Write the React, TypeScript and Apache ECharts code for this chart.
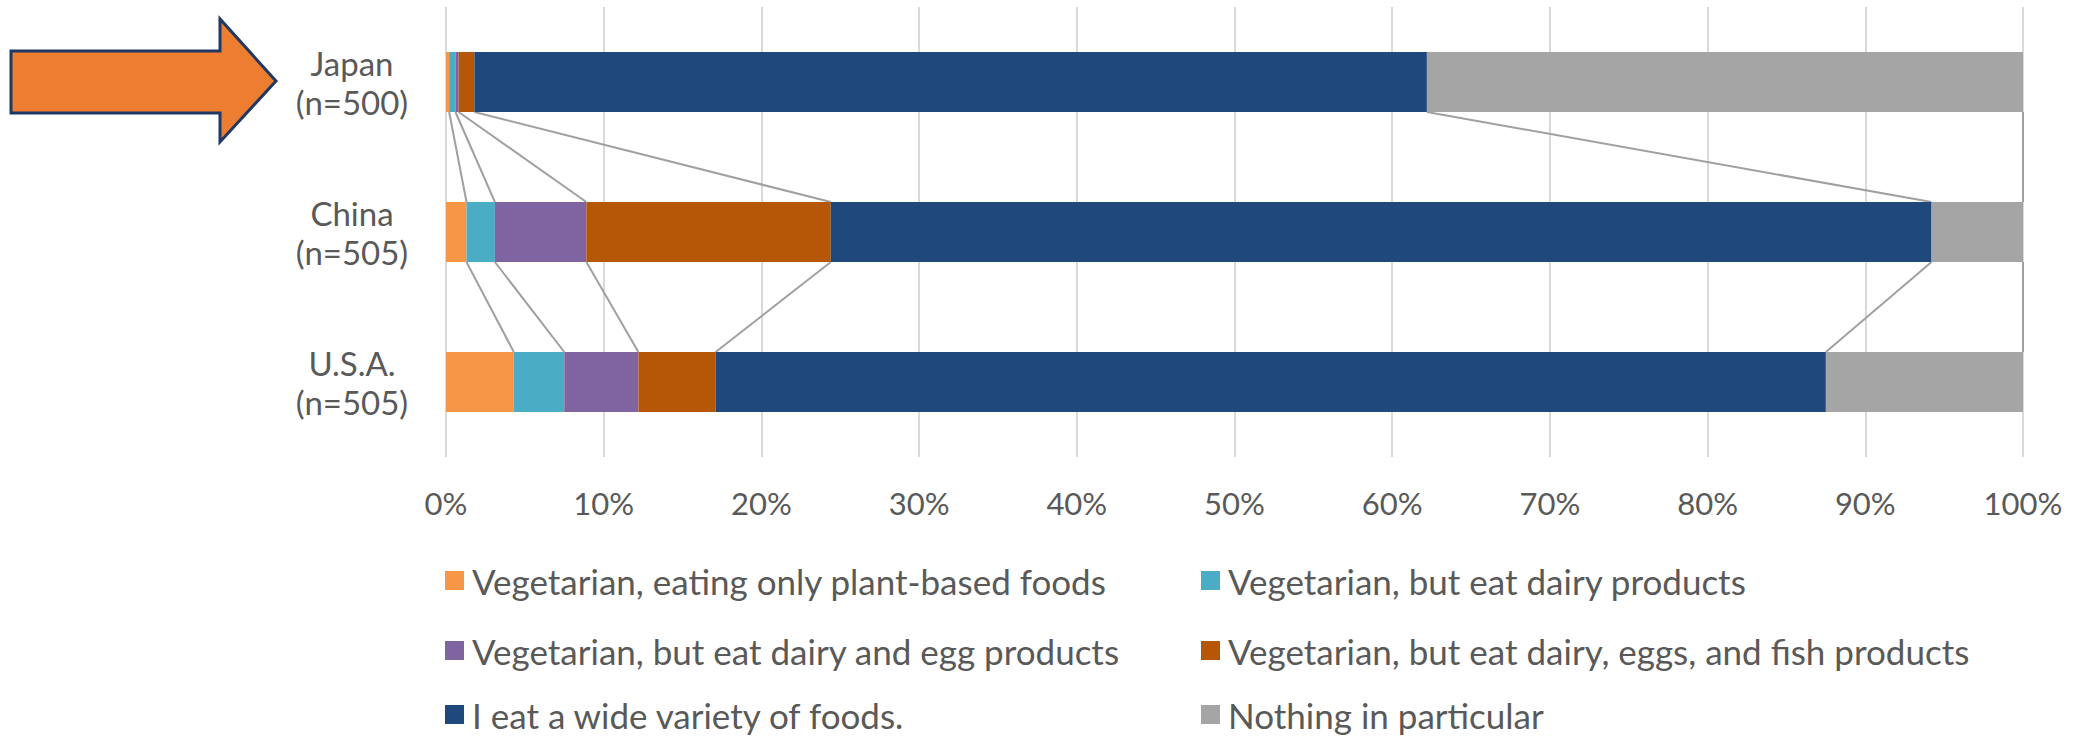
import React, { useEffect, useRef } from "react";
import * as echarts from "echarts";

const categories = ["Japan\n(n=500)", "China\n(n=505)", "U.S.A.\n(n=505)"];
const seriesNames = [
  "Vegetarian, eating only plant-based foods",
  "Vegetarian, but eat dairy products",
  "Vegetarian, but eat dairy and egg products",
  "Vegetarian, but eat dairy, eggs, and fish products",
  "I eat a wide variety of foods.",
  "Nothing in particular",
];
const colors = ["#F79646", "#4BACC6", "#8064A2", "#B65708", "#1F497D", "#A5A5A5"];
// values per series, order: Japan, China, U.S.A.
const plantOnly = [0.2, 1.3, 4.3];
const dairy = [0.4, 1.8, 3.2];
const dairyEgg = [0.2, 5.8, 4.7];
const dairyEggFish = [1.0, 15.5, 4.9];
const wideVariety = [60.4, 69.8, 70.4];
const nothing = [37.8, 5.8, 12.5];
const tickLabels = ["0%", "10%", "20%", "30%", "40%", "50%", "60%", "70%", "80%", "90%", "100%"];

const values = [plantOnly, dairy, dairyEgg, dairyEggFish, wideVariety, nothing];
const FONT = "Lato";
const TEXT = "#595959";

export default function App() {
  const ref = useRef<HTMLDivElement>(null);
  useEffect(() => {
    if (!ref.current) return;
    const chart = echarts.init(ref.current, undefined, { renderer: "svg" });

    const cum: number[][] = categories.map((_, ci) => {
      let s = 0;
      return values.map((v) => (s += v[ci]));
    });
    const lineData: number[][] = [];
    for (let ci = 0; ci < categories.length - 1; ci++) {
      for (let k = 0; k < values.length; k++) {
        lineData.push([cum[ci][k], ci, cum[ci + 1][k], ci + 1]);
      }
    }

    const barSeries = seriesNames.map((name, i) => ({
      name,
      type: "bar",
      stack: "total",
      barWidth: "40%",
      itemStyle: { color: colors[i] },
      data: values[i],
      z: 3,
    }));

    const legendPos = [
      [445, 563],
      [1201, 563],
      [445, 633],
      [1201, 633],
      [445, 697],
      [1201, 697],
    ];
    const legends = seriesNames.map((name, i) => ({
      left: legendPos[i][0],
      top: legendPos[i][1],
      padding: 0,
      itemWidth: 19,
      itemHeight: 19,
      icon: "rect",
      textStyle: { color: TEXT, fontFamily: FONT, fontSize: 35, lineHeight: 34, padding: [0, 0, 0, 3] },
      data: [name],
    }));

    const option: any = {
      animation: false,
      backgroundColor: "#ffffff",
      textStyle: { fontFamily: FONT },
      grid: { left: 446, right: 64, top: 7, height: 450 },
      xAxis: {
        type: "value",
        min: 0,
        max: 100,
        interval: 10,
        axisLine: { show: false },
        axisTick: { show: false },
        splitLine: { lineStyle: { color: "#D9D9D9", width: 2 } },
        axisLabel: {
          color: TEXT,
          fontFamily: FONT,
          fontSize: 31,
          margin: 30,
          formatter: (v: number) => tickLabels[Math.round(v / 10)],
        },
      },
      yAxis: {
        type: "category",
        inverse: true,
        data: categories,
        axisLine: { show: false },
        axisTick: { show: false },
        axisLabel: {
          color: TEXT,
          fontFamily: FONT,
          fontSize: 33,
          lineHeight: 39,
          align: "center",
          margin: 94,
        },
      },
      legend: legends,
      graphic: [
        {
          type: "polygon",
          shape: {
            points: [
              [11, 51],
              [220, 51],
              [220, 19],
              [276, 81],
              [220, 142],
              [220, 113],
              [11, 113],
            ],
          },
          style: { fill: "#ED7D31", stroke: "#1F3864", lineWidth: 3 },
        },
      ],
      series: [
        ...barSeries,
        {
          type: "custom",
          name: "seriesLines",
          silent: true,
          z: 2,
          encode: { x: [0, 2], y: [1, 3] },
          data: lineData,
          renderItem: (params: any, api: any) => {
            const band = api.size([0, 1])[1];
            const half = band * 0.2;
            const p1 = api.coord([api.value(0), api.value(1)]);
            const p2 = api.coord([api.value(2), api.value(3)]);
            return {
              type: "line",
              shape: { x1: p1[0], y1: p1[1] + half, x2: p2[0], y2: p2[1] - half },
              style: { stroke: "#A0A0A0", lineWidth: 2 },
            };
          },
        },
      ],
    };
    chart.setOption(option);
    return () => chart.dispose();
  }, []);
  return (
    <div
      ref={ref}
      style={{ position: "fixed", left: 0, top: 0, width: 2087, height: 738 }}
    />
  );
}
